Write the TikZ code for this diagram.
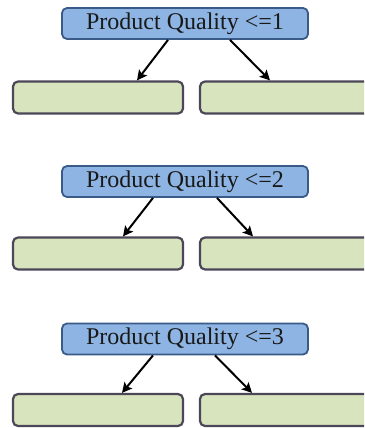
\documentclass[tikz,border=0pt]{standalone}
\usepackage{fontspec}
\setmainfont{Liberation Serif}
\usetikzlibrary{arrows.meta}
\definecolor{qfill}{HTML}{8DB4E2}
\definecolor{qline}{HTML}{3A5A88}
\definecolor{lfill}{HTML}{D7E4BD}
\definecolor{lline}{HTML}{4B4658}
\tikzset{
  query/.style={draw=qline, fill=qfill, line width=1.8pt, rounded corners=5pt,
    minimum width=246pt, minimum height=31pt, inner sep=0pt,
    font=\fontsize{24}{26}\selectfont, text=black!90},
  leaf/.style={draw=lline, fill=lfill, line width=2.2pt, rounded corners=5pt,
    minimum width=170pt, minimum height=32pt, inner sep=0pt},
  arr/.style={line width=2pt, -{Stealth[length=10pt,width=10pt,inset=2pt]}}
}
\begin{document}
\begin{tikzpicture}[x=1pt,y=-1pt]
\useasboundingbox (0,0) rectangle (364,428);
\clip (0,0) rectangle (364,428);
% split at 1
\node[query] (q1) at (185,23.5) {Product Quality <=1};
\node[leaf] (l1) at (98,97.5) {};
\node[leaf] (r1) at (285,97.5) {};
\draw[arr] ([xshift=-17pt]q1.south) -- ([xshift=39pt]l1.north);
\draw[arr] ([xshift=45pt]q1.south) -- ([xshift=-15pt]r1.north);
% split at 2
\node[query] (q2) at (185,181.5) {Product Quality <=2};
\node[leaf] (l2) at (98,253.5) {};
\node[leaf] (r2) at (285,253.5) {};
\draw[arr] ([xshift=-32pt]q2.south) -- ([xshift=25pt]l2.north);
\draw[arr] ([xshift=32pt]q2.south) -- ([xshift=-32pt]r2.north);
% split at 3
\node[query] (q3) at (185,339) {Product Quality <=3};
\node[leaf] (l3) at (98,410) {};
\node[leaf] (r3) at (285,410) {};
\draw[arr] ([xshift=-32pt]q3.south) -- ([xshift=24pt]l3.north);
\draw[arr] ([xshift=30pt]q3.south) -- ([xshift=-33pt]r3.north);
\end{tikzpicture}
\end{document}
